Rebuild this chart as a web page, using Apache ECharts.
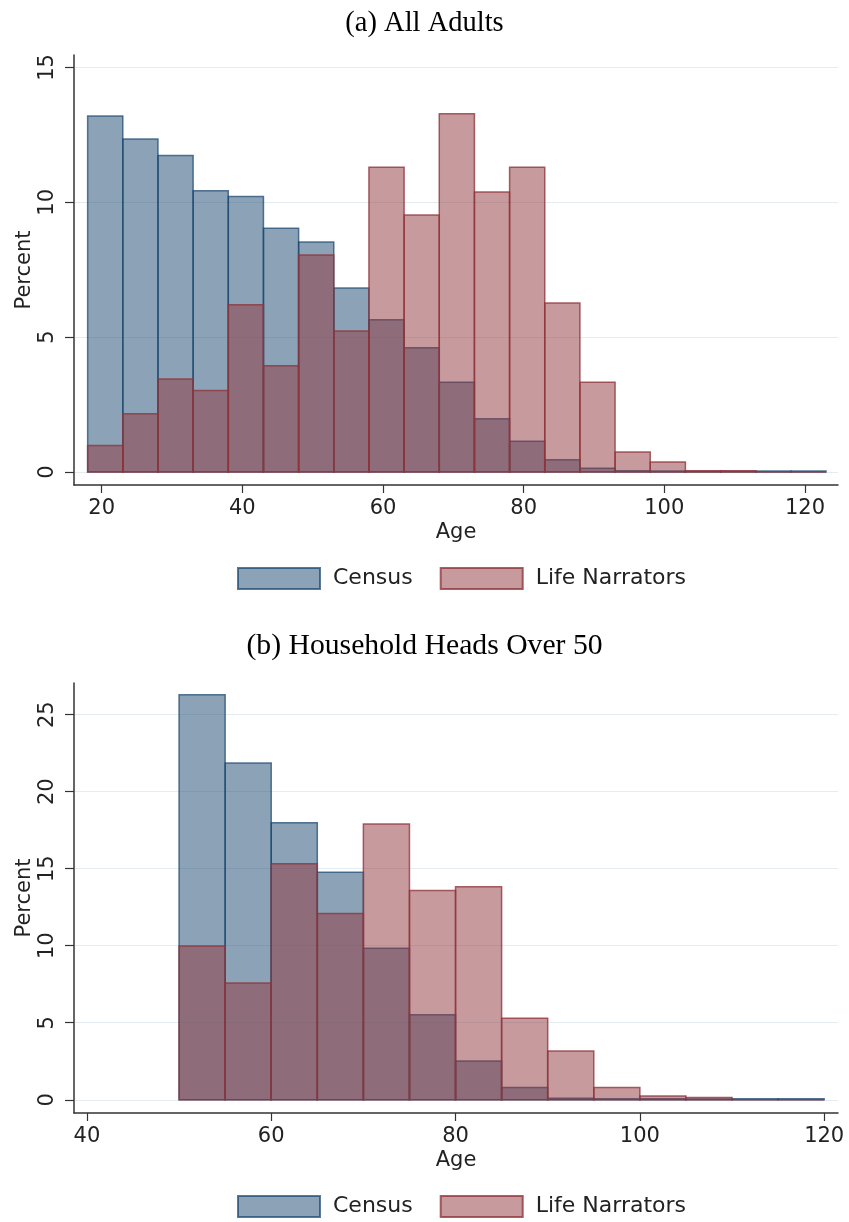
<!DOCTYPE html>
<html>
<head>
<meta charset="utf-8">
<script src="https://cdn.jsdelivr.net/npm/echarts@6/dist/echarts.min.js"></script>
<style>html,body{margin:0;padding:0;background:#fff;}#chart{width:849px;height:1222px;}</style>
</head>
<body>
<div id="chart"></div>
<script>
// ---- Data ----
const binWidth = 5;
// (a) All Adults: bin start ages
const binsA = [18,23,28,33,38,43,48,53,58,63,68,73,78,83,88,93,98,103,108,113,118];
const censusA = [13.2,12.35,11.73,10.43,10.21,9.04,8.53,6.82,5.65,4.61,3.33,1.98,1.14,0.46,0.14,0.05,0.04,0.03,0.03,0.04,0.04];
const narratorsA = [0.98,2.16,3.45,3.02,6.2,3.94,8.05,5.23,11.3,9.53,13.28,10.38,11.3,6.27,3.33,0.74,0.37,0.05,0.05,0,0];
// (b) Household Heads Over 50
const binsB = [50,55,60,65,70,75,80,85,90,95,100,105,110,115];
const censusB = [26.3,21.86,17.99,14.78,9.83,5.52,2.51,0.8,0.1,0.06,0.06,0.05,0.06,0.06];
const narratorsB = [9.98,7.58,15.32,12.1,17.9,13.59,13.83,5.3,3.16,0.8,0.24,0.15,0,0];
const yTicksA = [0,5,10,15];
const yTicksB = [0,5,10,15,20,25];
const xTicksA = [20,40,60,80,100,120];
const xTicksB = [40,60,80,100,120];
const titles = ['(a) All Adults', '(b) Household Heads Over 50'];
const seriesNames = ['Census', 'Life Narrators'];

// ---- Styles ----
const FONT = 'DejaVu Sans';
const TXT = '#222';
const blueStyle = {color:'rgba(26,71,111,0.5)', borderColor:'rgba(26,71,111,0.72)', borderWidth:1.5};
const redStyle = {color:'rgba(144,53,59,0.5)', borderColor:'rgba(144,53,59,0.78)', borderWidth:1.5};

function renderHist(params, api){
  const x0 = api.value(0);
  const v = api.value(1);
  const p0 = api.coord([x0, v]);
  const p1 = api.coord([x0 + binWidth, 0]);
  return {type:'rect', shape:{x:p0[0], y:p0[1], width:p1[0]-p0[0], height:p1[1]-p0[1]}, style: api.style()};
}
function pairs(bins, vals){ return bins.map((b,i)=>[b, vals[i]]); }

function xAxisCfg(gi, min, max, ticks){
  return {
    type:'value', gridIndex:gi, min:min, max:max, name:'Age', nameLocation:'middle', nameGap:37,
    nameMoveOverlap:false,
    nameTextStyle:{fontFamily:FONT, fontSize:21, color:TXT},
    axisLine:{show:true, onZero:false, lineStyle:{color:'#333', width:1.5}},
    axisTick:{show:true, length:8, customValues:ticks, lineStyle:{color:'#333', width:1.2}},
    axisLabel:{customValues:ticks, fontFamily:FONT, fontSize:21, color:TXT, margin:13},
    splitLine:{show:false}
  };
}
function yAxisCfg(gi, min, max, ticks){
  return {
    type:'value', gridIndex:gi, min:min, max:max, name:'Percent', nameLocation:'middle', nameGap:39,
    nameMoveOverlap:false,
    nameTextStyle:{fontFamily:FONT, fontSize:21, color:TXT},
    axisLine:{show:true, onZero:false, lineStyle:{color:'#333', width:1.5}},
    axisTick:{show:true, length:9, customValues:ticks, lineStyle:{color:'#333', width:1.2}},
    axisLabel:{customValues:ticks, rotate:90, fontFamily:FONT, fontSize:21, color:TXT, margin:16},
    splitLine:{show:true, lineStyle:{color:'#e3edf1', width:1.2}}
  };
}
function legendCfg(top){
  return {
    data:seriesNames, left:237, top:top, padding:0, icon:'rect', itemWidth:82, itemHeight:21, itemGap:27,
    textStyle:{fontFamily:FONT, fontSize:22, color:TXT, padding:[0,0,0,8]},
    selectedMode:false
  };
}
function seriesCfg(name, gi, data, style, z){
  return {type:'custom', name:name, xAxisIndex:gi, yAxisIndex:gi, data:data, renderItem:renderHist,
    encode:{x:0, y:1}, itemStyle:style, z:z, silent:true};
}

const chart = echarts.init(document.getElementById('chart'), null, {renderer:'canvas'});
chart.setOption({
  animation:false,
  backgroundColor:'#fff',
  title:[
    {text:titles[0], left:'center', top:4, textStyle:{fontFamily:'Liberation Serif', fontWeight:'normal', fontSize:28.5, color:'#000'}},
    {text:titles[1], left:'center', top:626, textStyle:{fontFamily:'Liberation Serif', fontWeight:'normal', fontSize:29.7, color:'#000'}}
  ],
  legend:[legendCfg(567), legendCfg(1195)],
  grid:[
    {left:74, right:11, top:55, height:430, outerBoundsMode:'none', containLabel:false},
    {left:74, right:11, top:683, height:430, outerBoundsMode:'none', containLabel:false}
  ],
  xAxis:[xAxisCfg(0, 16.06, 124.7, xTicksA), xAxisCfg(1, 38.6, 121.5, xTicksB)],
  yAxis:[yAxisCfg(0, -0.48, 15.46, yTicksA), yAxisCfg(1, -0.86, 27.06, yTicksB)],
  series:[
    seriesCfg(seriesNames[0], 0, pairs(binsA, censusA), blueStyle, 2),
    seriesCfg(seriesNames[1], 0, pairs(binsA, narratorsA), redStyle, 3),
    seriesCfg(seriesNames[0], 1, pairs(binsB, censusB), blueStyle, 2),
    seriesCfg(seriesNames[1], 1, pairs(binsB, narratorsB), redStyle, 3)
  ]
});
</script>
</body>
</html>
